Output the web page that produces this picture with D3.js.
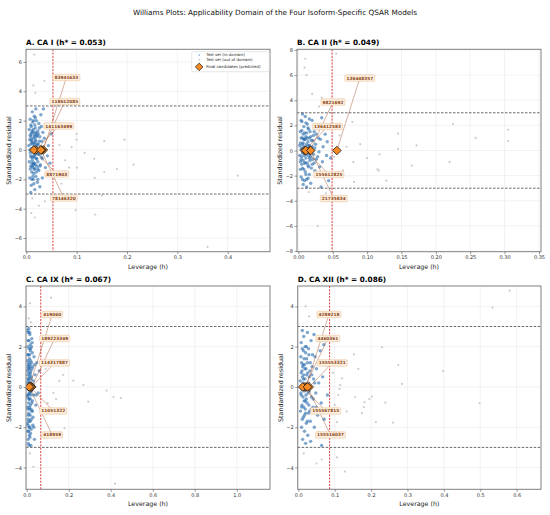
<!DOCTYPE html>
<html>
<head>
<meta charset="utf-8">
<script src="https://cdn.jsdelivr.net/npm/d3@7"></script>
<style>
  body { margin: 0; background: #fff; }
  text { font-family: 'DejaVu Sans', sans-serif; }
</style>
</head>
<body>
<script>
// panel titles and applicability-domain thresholds
const titles = ['A. CA I (h* = 0.053)', 'B. CA II (h* = 0.049)', 'C. CA IX (h* = 0.067)', 'D. CA XII (h* = 0.086)'];
const hStar = [0.053, 0.049, 0.067, 0.086];
const xTicks = [
  [0, 0.1, 0.2, 0.3, 0.4],
  [0, 0.05, 0.1, 0.15, 0.2, 0.25, 0.3, 0.35],
  [0, 0.2, 0.4, 0.6, 0.8, 1.0],
  [0, 0.1, 0.2, 0.3, 0.4, 0.5, 0.6],
];
const xTickFormat = ['.1f', '.2f', '.1f', '.1f'];
const yTicks = [
  [-6, -4, -2, 0, 2, 4, 6],
  [-8, -6, -4, -2, 0, 2, 4, 6, 8],
  [-4, -2, 0, 2, 4],
  [-4, -2, 0, 2, 4],
];

// test set, inside the domain: [leverage, standardized residual]
const inA = [
  [0.005, 0.3], [0.006, -0.8], [0.006, 1.4], [0.007, -1.9], [0.007, 0.7], [0.008, -0.2], [0.008, 2.1], [0.009, -1.1], [0.009, 0.9], [0.010, -0.5],
  [0.010, 1.6], [0.010, -2.4], [0.011, 0.1], [0.011, -1.5], [0.011, 1.2], [0.012, -0.7], [0.012, 2.6], [0.012, 0.5], [0.013, -1.2], [0.013, 1.9],
  [0.013, -0.1], [0.014, 0.8], [0.014, -2.0], [0.014, 1.4], [0.015, -0.4], [0.015, 0.2], [0.015, -1.6], [0.016, 1.0], [0.016, -0.9], [0.016, 2.3],
  [0.017, 0.4], [0.017, -1.3], [0.017, -2.7], [0.018, 1.5], [0.018, -0.3], [0.018, 0.7], [0.019, -1.8], [0.019, 1.1], [0.020, -0.6], [0.020, 0.1],
  [0.020, 2.0], [0.021, -1.1], [0.021, 0.9], [0.022, -0.2], [0.022, -2.2], [0.023, 1.3], [0.023, -0.8], [0.024, 0.4], [0.025, 1.8], [0.025, -1.4],
  [0.026, -0.3], [0.027, 0.9], [0.028, -1.0], [0.029, 2.4], [0.030, -0.5], [0.031, 0.6], [0.032, -1.9], [0.033, 1.2], [0.035, -0.1], [0.036, 0.8],
  [0.038, -1.2], [0.040, 1.6], [0.042, -0.4], [0.044, 0.3], [0.047, -0.9], [0.050, 1.1], [0.034, 2.8], [0.009, -2.9], [0.019, 2.8], [0.027, -2.5],
  [0.007, 0.0], [0.008, 1.0], [0.008, -1.3], [0.009, 0.4], [0.009, -0.4], [0.010, 0.7], [0.010, 1.1], [0.011, -0.9], [0.011, 0.6], [0.012, -1.1],
  [0.012, 0.1], [0.012, 1.3], [0.013, 0.4], [0.013, -0.5], [0.013, -1.8], [0.014, 0.0], [0.014, -1.0], [0.014, 2.0], [0.015, 1.2], [0.015, -0.9],
  [0.016, 0.5], [0.016, -0.2], [0.016, -1.3], [0.017, 0.9], [0.017, -0.5], [0.017, 1.7], [0.018, 0.2], [0.018, -1.0], [0.019, 0.6], [0.019, -0.1],
  [0.020, 1.2], [0.020, -1.5], [0.021, 0.3], [0.021, -0.6], [0.022, 1.0], [0.022, 0.4], [0.023, -1.3], [0.024, -0.3], [0.024, 1.1], [0.026, 0.6],
  [0.027, -1.1], [0.028, 0.2], [0.011, -2.0], [0.009, 1.7], [0.015, -2.3], [0.018, 2.2], [0.023, -2.0], [0.026, 1.5], [0.030, 1.6], [0.032, -0.6],
];
const inB = [
  [0.002, 0.4], [0.003, -0.9], [0.003, 1.5], [0.004, -2.1], [0.004, 0.1], [0.005, 2.3], [0.005, -0.5], [0.006, 1.0], [0.006, -1.4], [0.007, 0.6],
  [0.007, -2.7], [0.008, -0.2], [0.008, 1.9], [0.009, -1.0], [0.009, 0.9], [0.010, 2.7], [0.010, -1.7], [0.011, 0.3], [0.011, -0.6], [0.012, 1.4],
  [0.012, -2.3], [0.013, 0.0], [0.013, 2.1], [0.014, -1.2], [0.014, 0.7], [0.015, -0.4], [0.015, 1.7], [0.016, -1.9], [0.016, 0.4], [0.017, -0.8],
  [0.018, 1.1], [0.018, -2.6], [0.019, 0.2], [0.020, -1.1], [0.020, 2.4], [0.021, 0.8], [0.022, -0.3], [0.023, 1.5], [0.024, -1.6], [0.025, 0.5],
  [0.026, -0.7], [0.027, 2.0], [0.028, -2.0], [0.029, 1.0], [0.030, -0.1], [0.031, -1.3], [0.032, 0.9], [0.034, 2.6], [0.035, -0.9], [0.036, 0.3],
  [0.038, -1.8], [0.039, 1.3], [0.041, -0.4], [0.042, 0.7], [0.044, -2.4], [0.046, 1.8], [0.047, -0.6], [0.033, -2.9], [0.006, 2.9], [0.012, -2.9],
  [0.002, -0.4], [0.003, 0.6], [0.003, -1.5], [0.004, 1.0], [0.004, -0.7], [0.005, 0.2], [0.005, 1.6], [0.005, -1.1], [0.006, -0.2], [0.006, 0.5],
  [0.007, 1.3], [0.007, -0.8], [0.008, 0.3], [0.008, -1.5], [0.008, 0.9], [0.009, -0.4], [0.009, 1.4], [0.010, 0.0], [0.010, -1.0], [0.010, 0.9],
  [0.011, -1.9], [0.011, 1.1], [0.012, -0.3], [0.012, 0.5], [0.013, -1.0], [0.013, 1.0], [0.014, -0.1], [0.014, 1.8], [0.015, 0.4], [0.015, -1.3],
  [0.016, 1.0], [0.016, -0.6], [0.017, 0.2], [0.017, 1.5], [0.018, -0.5], [0.019, -1.4], [0.019, 0.8], [0.020, 0.3], [0.021, -0.7], [0.022, 1.2],
  [0.004, 2.4], [0.006, -2.3], [0.009, -2.4], [0.011, 2.2], [0.014, -2.2], [0.016, 2.5], [0.023, -1.0], [0.024, 0.2], [0.026, 1.3], [0.028, -0.5],
];
const inC = [
  [0.003, 0.2], [0.004, -1.0], [0.004, 1.3], [0.005, -2.2], [0.005, 0.6], [0.006, 2.0], [0.006, -0.4], [0.007, -1.6], [0.007, 1.0], [0.008, 0.0],
  [0.008, 2.7], [0.008, -2.8], [0.009, -0.8], [0.009, 1.6], [0.010, 0.4], [0.010, -1.3], [0.011, 2.3], [0.011, -0.1], [0.012, -2.0], [0.012, 0.9],
  [0.013, -0.6], [0.013, 1.4], [0.014, -1.1], [0.014, 0.2], [0.015, 2.6], [0.015, -2.5], [0.016, -0.3], [0.016, 1.1], [0.017, -1.7], [0.018, 0.7],
  [0.018, -0.9], [0.019, 1.9], [0.020, -0.2], [0.021, -2.1], [0.022, 0.5], [0.023, 1.2], [0.024, -1.2], [0.025, 0.1], [0.026, 2.2], [0.027, -0.7],
  [0.028, 1.0], [0.030, -1.5], [0.031, 0.3], [0.033, -0.4], [0.035, 1.5], [0.037, -2.6], [0.040, 0.6], [0.043, -0.9], [0.048, 1.2], [0.055, -0.3],
  [0.060, 0.8], [0.010, 2.9], [0.020, -2.9], [0.006, -1.9], [0.009, 0.9], [0.017, 1.8], [0.022, -1.6], [0.013, -2.4], [0.024, 2.4], [0.029, -1.9],
  [0.003, -0.5], [0.004, 0.8], [0.004, -1.8], [0.005, -0.1], [0.005, 1.6], [0.006, 0.4], [0.006, -1.1], [0.007, 2.3], [0.007, -0.4], [0.008, 1.1],
  [0.008, -1.4], [0.009, 0.3], [0.009, -2.2], [0.010, 1.2], [0.010, -0.6], [0.011, 0.7], [0.011, -1.7], [0.012, 1.9], [0.012, -0.3], [0.013, 0.5],
  [0.013, -1.0], [0.014, 1.6], [0.014, -2.0], [0.015, 0.0], [0.015, 1.0], [0.016, -1.4], [0.016, 0.6], [0.017, 2.1], [0.017, -0.6], [0.018, 0.2],
  [0.018, -2.3], [0.019, -0.4], [0.019, 1.3], [0.020, 0.8], [0.021, -1.1], [0.021, 0.4], [0.022, -0.2], [0.023, 2.0], [0.024, -0.8], [0.025, 0.9],
  [0.005, 2.8], [0.007, -2.6], [0.011, -2.9], [0.014, 2.7], [0.027, 1.7], [0.028, -1.2], [0.032, 0.1], [0.034, -2.0], [0.038, 1.1], [0.045, -0.4],
];
const inD = [
  [0.005, 0.3], [0.006, -1.2], [0.007, 1.5], [0.008, -0.4], [0.008, 2.2], [0.009, -2.0], [0.010, 0.8], [0.010, -0.9], [0.011, 1.9], [0.012, -0.1],
  [0.012, -2.6], [0.013, 1.1], [0.014, -1.5], [0.014, 0.4], [0.015, 2.5], [0.016, -0.7], [0.016, 1.4], [0.017, -2.2], [0.018, 0.0], [0.018, 0.9],
  [0.019, -1.1], [0.020, 1.7], [0.021, -0.4], [0.022, 2.0], [0.022, -1.8], [0.023, 0.6], [0.024, -0.8], [0.025, 1.2], [0.026, -2.4], [0.027, 0.2],
  [0.028, -1.3], [0.029, 1.6], [0.030, -0.2], [0.032, 0.8], [0.033, -1.7], [0.035, 2.3], [0.036, -0.5], [0.038, 1.0], [0.040, -1.0], [0.042, 0.4],
  [0.044, -2.0], [0.046, 1.5], [0.048, -0.3], [0.050, 0.9], [0.053, -1.4], [0.056, 0.2], [0.060, 1.8], [0.063, -0.8], [0.067, 0.5], [0.071, -1.6],
  [0.075, 1.1], [0.080, -0.4], [0.011, 2.8], [0.020, -2.8], [0.034, -2.7], [0.043, 2.6], [0.058, -2.3], [0.070, 2.1], [0.025, 2.7], [0.064, -2.9],
  [0.007, -0.3], [0.008, 0.7], [0.009, -1.0], [0.009, 1.2], [0.010, -0.1], [0.011, 0.5], [0.011, -1.6], [0.012, 1.0], [0.013, -0.5], [0.013, 0.2],
  [0.014, 1.8], [0.015, -1.0], [0.015, 0.6], [0.016, -0.2], [0.017, 1.1], [0.017, -1.4], [0.018, 0.4], [0.019, -0.7], [0.019, 2.0], [0.020, 0.0],
  [0.020, -1.3], [0.021, 0.9], [0.022, -0.6], [0.023, 1.4], [0.024, 0.1], [0.025, -1.7], [0.026, 0.7], [0.027, -0.3], [0.028, 1.9], [0.029, -0.9],
  [0.030, 0.5], [0.031, -1.2], [0.033, 1.2], [0.034, 0.0], [0.036, -1.1], [0.037, 0.6], [0.039, 1.6], [0.041, -0.6], [0.045, 0.2], [0.049, -1.0],
];

// test set, outside the domain
const outA = [
  [0.016, 6.5], [0.014, 4.4], [0.036, 4.7], [0.018, 3.9], [0.010, -4.3], [0.017, -4.6], [0.037, -3.5], [0.025, -3.8], [0.012, -3.3],
  [0.066, 0.34], [0.077, -0.7], [0.085, -1.2], [0.100, 0.7], [0.100, 1.1], [0.101, -1.2], [0.098, -4.1], [0.116, -0.2], [0.135, -0.6],
  [0.136, -1.9], [0.137, -4.4], [0.155, -1.5], [0.155, 0.6], [0.180, -1.3], [0.195, 0.7], [0.213, -1.0], [0.150, -3.1], [0.420, -1.75],
  [0.360, -6.6], [0.060, 1.8], [0.070, -2.3], [0.090, 0.2],
];
const outB = [
  [0.010, 7.3], [0.009, 6.6], [0.055, 7.7], [0.012, 6.0], [0.028, -6.0], [0.020, 4.5], [0.034, 4.2], [0.015, -3.3], [0.030, 3.5], [0.040, -3.4],
  [0.0785, 2.27], [0.080, -0.93], [0.090, 0.5], [0.100, -0.6], [0.118, -0.3], [0.115, -1.5], [0.117, -1.6], [0.128, -2.4], [0.145, 1.35],
  [0.145, 0.13], [0.172, 0.4], [0.165, -1.2], [0.225, 2.1], [0.220, -0.93], [0.258, 1.0], [0.305, 1.65], [0.305, 0.75], [0.081, -2.5],
  [0.060, 1.2], [0.065, -1.6], [0.070, 0.3], [0.052, -0.5],
];
const outC = [
  [0.116, 4.43], [0.174, 0.6], [0.155, 0.3], [0.222, 0.31], [0.270, 0.1], [0.127, -0.3], [0.180, -2.05], [0.293, -0.73], [0.380, -0.18],
  [0.413, -0.5], [0.448, -0.55], [0.420, -4.8], [0.032, -3.96], [0.016, 4.15], [0.010, 3.4], [0.015, -3.3], [0.020, 3.2], [0.090, 0.9],
  [0.100, -0.8], [0.140, -0.6],
];
const outD = [
  [0.581, 4.78], [0.534, 3.94], [0.498, -0.81], [0.398, 0.79], [0.285, 0.15], [0.275, 1.09], [0.230, 1.97], [0.239, -0.78], [0.260, -1.77],
  [0.213, -1.75], [0.202, -0.48], [0.195, -0.6], [0.182, -0.75], [0.180, -1.0], [0.175, -1.3], [0.156, -0.5], [0.153, 1.62], [0.165, 0.9],
  [0.120, 0.43], [0.115, 0.1], [0.113, -0.1], [0.110, -0.4], [0.133, -1.22], [0.128, -4.2], [0.106, -1.75], [0.133, 1.3], [0.106, -3.5],
  [0.020, 4.0], [0.030, 3.5], [0.064, -3.6], [0.015, -3.3], [0.050, -3.8], [0.095, 0.7], [0.100, -0.9],
];

// final candidates (predicted): compound ids and leverage, residual 0
const candIdsA = ['83941633', '118612085', '141163499', '8871903', '78146320'];
const candHA = [0.034, 0.031, 0.019, 0.015, 0.029];
const candIdsB = ['136448357', '9821692', '136412583', '155612825', '21735834'];
const candHB = [0.056, 0.017, 0.009, 0.011, 0.018];
const candIdsC = ['419060', '189223349', '114317887', '11051322', '418959'];
const candHC = [0.012, 0.024, 0.023, 0.017, 0.012];
const candIdsD = ['4289218', '4460361', '155553321', '155567815', '155516037'];
const candHD = [0.021, 0.018, 0.030, 0.012, 0.025];

// layout
const frames = [
  { x0: 26, x1: 270, y0: 49.3, y1: 251.7 },
  { x0: 297, x1: 541, y0: 49.3, y1: 251.7 },
  { x0: 26, x1: 270, y0: 286, y1: 489.3 },
  { x0: 297.7, x1: 541, y0: 286, y1: 489.3 },
];
const xDomains = [[-0.0005, 0.484], [-0.002, 0.353], [-0.0033, 1.158], [-0.0017, 0.667]];
const yDomains = [[-6.93, 6.86], [-8.05, 8.05], [-5.08, 5.01], [-5.08, 5.01]];
const labelDy = [-72.5, -48.5, -24, 24, 48];
const labelDx = 23;

const inSets = [inA, inB, inC, inD];
const outSets = [outA, outB, outC, outD];
const candIds = [candIdsA, candIdsB, candIdsC, candIdsD];
const candH = [candHA, candHB, candHC, candHD];

const svg = d3.select('body').append('svg')
  .attr('width', 550)
  .attr('height', 515);

svg.append('text')
  .attr('x', 275)
  .attr('y', 15)
  .attr('text-anchor', 'middle')
  .attr('font-size', 7.3)
  .attr('fill', '#111')
  .text('Williams Plots: Applicability Domain of the Four Isoform-Specific QSAR Models');

const diamond = s => `M0,${-s}L${s},0L0,${s}L${-s},0Z`;
const minus = s => s.replace('-', '\u2212');

frames.forEach((f, i) => {
  const x = d3.scaleLinear().domain(xDomains[i]).range([f.x0, f.x1]);
  const y = d3.scaleLinear().domain(yDomains[i]).range([f.y1, f.y0]);
  const g = svg.append('g');

  const clipId = `clip${i}`;
  g.append('clipPath').attr('id', clipId)
    .append('rect')
    .attr('x', f.x0).attr('y', f.y0)
    .attr('width', f.x1 - f.x0).attr('height', f.y1 - f.y0);

  // grid
  g.append('g')
    .selectAll('line')
    .data(xTicks[i])
    .join('line')
    .attr('x1', d => x(d)).attr('x2', d => x(d))
    .attr('y1', f.y0).attr('y2', f.y1)
    .attr('stroke', '#e6e6e6')
    .attr('stroke-width', 0.5);
  g.append('g')
    .selectAll('line')
    .data(yTicks[i])
    .join('line')
    .attr('x1', f.x0).attr('x2', f.x1)
    .attr('y1', d => y(d)).attr('y2', d => y(d))
    .attr('stroke', '#e6e6e6')
    .attr('stroke-width', 0.5);

  const plot = g.append('g').attr('clip-path', `url(#${clipId})`);

  plot.append('g')
    .selectAll('circle')
    .data(inSets[i])
    .join('circle')
    .attr('cx', d => x(d[0]))
    .attr('cy', d => y(d[1]))
    .attr('r', 1.7)
    .attr('fill', '#2a6cad')
    .attr('fill-opacity', 0.6);

  plot.append('g')
    .selectAll('circle')
    .data(outSets[i])
    .join('circle')
    .attr('cx', d => x(d[0]))
    .attr('cy', d => y(d[1]))
    .attr('r', 1.1)
    .attr('fill', '#9a9a9a')
    .attr('fill-opacity', 0.5);

  // residual limits +/-3
  plot.append('g')
    .selectAll('line')
    .data([3, -3])
    .join('line')
    .attr('x1', f.x0).attr('x2', f.x1)
    .attr('y1', d => y(d)).attr('y2', d => y(d))
    .attr('stroke', '#444')
    .attr('stroke-width', 0.8)
    .attr('stroke-dasharray', '2.5,1.5');

  // warning leverage h*
  plot.append('line')
    .attr('x1', x(hStar[i])).attr('x2', x(hStar[i]))
    .attr('y1', f.y0).attr('y2', f.y1)
    .attr('stroke', '#d62728')
    .attr('stroke-width', 0.9)
    .attr('stroke-dasharray', '2,1.3');

  const cands = candIds[i].map((id, k) => ({ id, h: candH[i][k], r: 0, k }));

  plot.append('g')
    .selectAll('line')
    .data(cands)
    .join('line')
    .attr('x1', d => x(d.h)).attr('y1', d => y(d.r))
    .attr('x2', d => x(d.h) + labelDx).attr('y2', d => y(d.r) + labelDy[d.k])
    .attr('stroke', '#a0522d')
    .attr('stroke-opacity', 0.75)
    .attr('stroke-width', 0.6);

  plot.append('g')
    .selectAll('path')
    .data(cands)
    .join('path')
    .attr('transform', d => `translate(${x(d.h)},${y(d.r)})`)
    .attr('d', diamond(4.3))
    .attr('fill', '#f58a24')
    .attr('stroke', '#1a1a1a')
    .attr('stroke-width', 0.8);

  const lab = g.append('g')
    .selectAll('g')
    .data(cands)
    .join('g')
    .attr('transform', d => `translate(${x(d.h) + labelDx},${y(d.r) + labelDy[d.k]})`);
  lab.append('text')
    .attr('text-anchor', 'middle')
    .attr('dy', '0.35em')
    .attr('font-size', 4.3)
    .attr('font-weight', 'bold')
    .attr('fill', '#8b4513')
    .text(d => d.id);
  lab.insert('rect', 'text')
    .each(function () {
      const b = this.parentNode.querySelector('text').getBBox();
      d3.select(this)
        .attr('x', b.x - 1.5).attr('y', -3.2)
        .attr('width', b.width + 3).attr('height', 6.4);
    })
    .attr('rx', 1)
    .attr('fill', '#fdf0e1')
    .attr('stroke', '#e9b98a')
    .attr('stroke-width', 0.5);

  // frame
  g.append('rect')
    .attr('x', f.x0).attr('y', f.y0)
    .attr('width', f.x1 - f.x0).attr('height', f.y1 - f.y0)
    .attr('fill', 'none')
    .attr('stroke', '#808080')
    .attr('stroke-width', 1);

  // axes
  g.append('g')
    .attr('transform', `translate(0,${f.y1})`)
    .call(d3.axisBottom(x).tickValues(xTicks[i]).tickFormat(d3.format(xTickFormat[i])).tickSize(2.5).tickPadding(1.5))
    .call(a => a.select('.domain').remove())
    .call(a => a.selectAll('line').attr('stroke', '#555').attr('stroke-width', 0.6))
    .call(a => a.selectAll('text').attr('font-size', 5).attr('fill', '#333').attr('font-family', 'DejaVu Sans'));
  g.append('g')
    .attr('transform', `translate(${f.x0},0)`)
    .call(d3.axisLeft(y).tickValues(yTicks[i]).tickFormat(d => minus(d3.format('d')(d))).tickSize(2.5).tickPadding(1.5))
    .call(a => a.select('.domain').remove())
    .call(a => a.selectAll('line').attr('stroke', '#555').attr('stroke-width', 0.6))
    .call(a => a.selectAll('text').attr('font-size', 5).attr('fill', '#333').attr('font-family', 'DejaVu Sans'));

  g.append('text')
    .attr('x', (f.x0 + f.x1) / 2)
    .attr('y', f.y1 + 17)
    .attr('text-anchor', 'middle')
    .attr('font-size', 6.3)
    .attr('fill', '#222')
    .text('Leverage (h)');
  g.append('text')
    .attr('transform', `translate(${f.x0 - 15},${(f.y0 + f.y1) / 2}) rotate(-90)`)
    .attr('text-anchor', 'middle')
    .attr('font-size', 6.3)
    .attr('fill', '#222')
    .text('Standardized residual');

  g.append('text')
    .attr('x', f.x0)
    .attr('y', f.y0 - 4)
    .attr('font-size', 7.3)
    .attr('font-weight', 'bold')
    .attr('fill', '#000')
    .text(titles[i]);
});

// legend (panel A)
const legendItems = ['Test set (in domain)', 'Test set (out of domain)', 'Final candidates (predicted)'];
const leg = svg.append('g').attr('transform', 'translate(191.7,51.7)');
leg.append('rect')
  .attr('width', 77.5)
  .attr('height', 20)
  .attr('rx', 1.5)
  .attr('fill', '#fff')
  .attr('fill-opacity', 0.85)
  .attr('stroke', '#d0d0d0')
  .attr('stroke-width', 0.5);
const ly = [3.4, 7.9, 15.2];
legendItems.forEach((t, k) => {
  if (k === 0) {
    leg.append('circle').attr('cx', 7.5).attr('cy', ly[k]).attr('r', 0.8).attr('fill', '#2a6cad').attr('fill-opacity', 0.6);
  } else if (k === 1) {
    leg.append('circle').attr('cx', 7.5).attr('cy', ly[k]).attr('r', 0.8).attr('fill', '#9a9a9a').attr('fill-opacity', 0.6);
  } else {
    leg.append('path').attr('transform', `translate(7.5,${ly[k]})`).attr('d', diamond(3.8))
      .attr('fill', '#f58a24').attr('stroke', '#1a1a1a').attr('stroke-width', 0.7);
  }
  leg.append('text')
    .attr('x', 14.5)
    .attr('y', ly[k])
    .attr('dy', '0.35em')
    .attr('font-size', 3.9)
    .attr('fill', '#222')
    .text(t);
});
</script>
</body>
</html>
